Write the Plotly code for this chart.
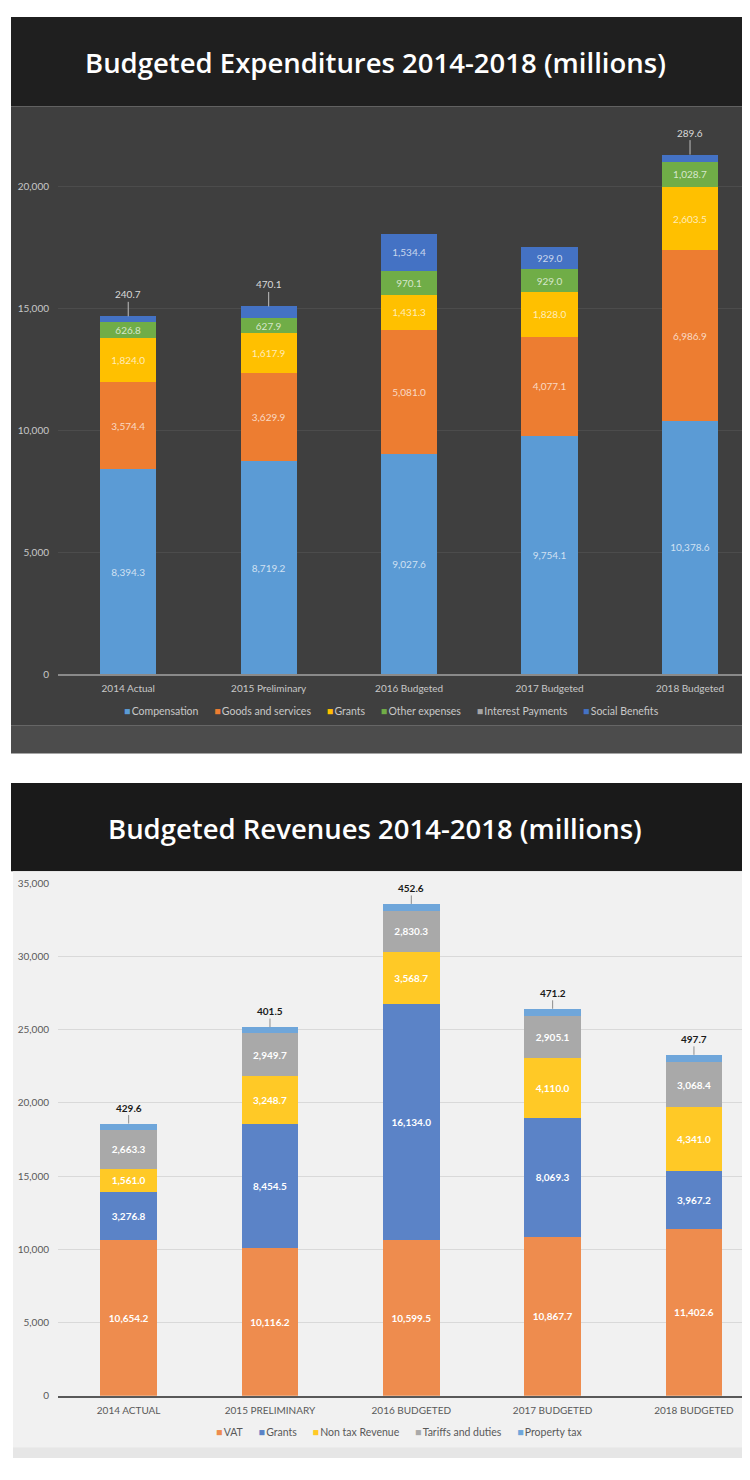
import plotly.graph_objects as go

# expenditures (millions)
exp_categories = ["2014 Actual", "2015 Preliminary", "2016 Budgeted", "2017 Budgeted", "2018 Budgeted"]
compensation = [8394.3, 8719.2, 9027.6, 9754.1, 10378.6]
goods_services = [3574.4, 3629.9, 5081.0, 4077.1, 6986.9]
exp_grants = [1824.0, 1617.9, 1431.3, 1828.0, 2603.5]
other_expenses = [626.8, 627.9, 970.1, 929.0, 1028.7]
interest_payments = [0, 0, 0, 0, 0]
social_benefits = [240.7, 470.1, 1534.4, 929.0, 289.6]

# revenues (millions)
rev_categories = ["2014 ACTUAL", "2015 PRELIMINARY", "2016 BUDGETED", "2017 BUDGETED", "2018 BUDGETED"]
vat = [10654.2, 10116.2, 10599.5, 10867.7, 11402.6]
rev_grants = [3276.8, 8454.5, 16134.0, 8069.3, 3967.2]
non_tax = [1561.0, 3248.7, 3568.7, 4110.0, 4341.0]
tariffs = [2663.3, 2949.7, 2830.3, 2905.1, 3068.4]
property_tax = [429.6, 401.5, 452.6, 471.2, 497.7]

OFF = 8  # default body margin of the page
W, H = 750 - 2 * OFF, 1480 - 2 * OFF
FONT = "Lato"
SMALL = 500  # segments below this get their label above the bar


# page pixel -> paper coords
def px(x):
    return (x - OFF) / W


def py(y):
    return 1 - (y - OFF) / H


def labels(vals):
    return ["" if v < SMALL else f"{v:,.1f}" for v in vals]


def legend_text(series):
    # compact excel-style legend: small coloured square right before each name
    gap = "\u2002\u2002\u2002"
    return gap.join(f'<span style="color:{c}">■</span>\u2009{n}' for n, _, c in series)


fig = go.Figure()

exp_series = [
    ("Compensation", compensation, "#5B9BD5"),
    ("Goods and services", goods_services, "#ED7D31"),
    ("Grants", exp_grants, "#FFC000"),
    ("Other expenses", other_expenses, "#70AD47"),
    ("Interest Payments", interest_payments, "#A5A5A5"),
    ("Social Benefits", social_benefits, "#4472C4"),
]
for name, vals, col in exp_series:
    fig.add_trace(go.Bar(
        x=exp_categories, y=vals, name=name, marker=dict(color=col, line=dict(width=0)),
        text=labels(vals), textposition="inside", insidetextanchor="middle", textangle=0,
        constraintext="none",
        textfont=dict(family=FONT, size=10, color="rgba(255,255,255,0.72)"),
        hoverinfo="x+y+name", xaxis="x", yaxis="y", showlegend=False,
    ))

rev_series = [
    ("VAT", vat, "#EE8C4E"),
    ("Grants", rev_grants, "#5B83C7"),
    ("Non tax Revenue", non_tax, "#FFC926"),
    ("Tariffs and duties", tariffs, "#A9A9A9"),
    ("Property tax", property_tax, "#6FA6DA"),
]
for name, vals, col in rev_series:
    fig.add_trace(go.Bar(
        x=rev_categories, y=vals, name=name, marker=dict(color=col, line=dict(width=0)),
        text=labels(vals), textposition="inside", insidetextanchor="middle", textangle=0,
        constraintext="none",
        textfont=dict(family=FONT, size=10, color="white", weight="bold"),
        hoverinfo="x+y+name", xaxis="x2", yaxis="y2", showlegend=False,
    ))

annotations = []
# outside labels with leader lines for thin top segments
exp_totals = [sum(s[1][i] for s in exp_series) for i in range(len(exp_categories))]
for i, v in enumerate(social_benefits):
    if v < SMALL:
        annotations.append(dict(
            x=exp_categories[i], y=exp_totals[i], xref="x", yref="y", text=f"{v:,.1f}",
            showarrow=True, arrowhead=0, arrowwidth=1, arrowcolor="#bfbfbf", ax=0, ay=-22,
            font=dict(family=FONT, size=10, color="#d9d9d9"),
        ))
rev_totals = [sum(s[1][i] for s in rev_series) for i in range(len(rev_categories))]
for i, v in enumerate(property_tax):
    if v < SMALL:
        annotations.append(dict(
            x=rev_categories[i], y=rev_totals[i], xref="x2", yref="y2", text=f"{v:,.1f}",
            showarrow=True, arrowhead=0, arrowwidth=1, arrowcolor="#8c8c8c", ax=0, ay=-16,
            font=dict(family=FONT, size=10, color="#1a1a1a", weight="bold"),
        ))

# banner titles
annotations.append(dict(
    x=px(375), y=py(56), xref="paper", yref="paper", showarrow=False,
    xanchor="center", yanchor="middle",
    text="Budgeted Expenditures 2014-2018 (millions)",
    font=dict(family="Open Sans", size=27.5, color="white", weight=600),
))
annotations.append(dict(
    x=px(375), y=py(829), xref="paper", yref="paper", showarrow=False,
    xanchor="center", yanchor="middle",
    text="Budgeted Revenues 2014-2018 (millions)",
    font=dict(family="Open Sans", size=27.5, color="white", weight=600),
))

# legends
annotations.append(dict(
    x=px(392), y=py(710), xref="paper", yref="paper", showarrow=False,
    xanchor="center", yanchor="middle", text=legend_text(exp_series),
    font=dict(family=FONT, size=10.5, color="#c8c8c8"),
))
annotations.append(dict(
    x=px(399), y=py(1438), xref="paper", yref="paper", showarrow=False,
    xanchor="center", yanchor="middle", text=legend_text(rev_series),
    font=dict(family=FONT, size=10.5, color="#595959"),
))

shapes = [
    dict(type="rect", xref="paper", yref="paper", x0=px(11), x1=px(742), y0=py(100), y1=py(10),
         fillcolor="#1f1f1f", line=dict(width=0), layer="below"),
    dict(type="rect", xref="paper", yref="paper", x0=px(11), x1=px(742), y0=py(725), y1=py(100),
         fillcolor="#3f3f3f", line=dict(width=0), layer="below"),
    dict(type="rect", xref="paper", yref="paper", x0=px(11), x1=px(742), y0=py(753), y1=py(725),
         fillcolor="#4c4c4c", line=dict(width=0), layer="below"),
    dict(type="rect", xref="paper", yref="paper", x0=px(11), x1=px(742), y0=py(872), y1=py(783),
         fillcolor="#1a1a1a", line=dict(width=0), layer="below"),
    dict(type="rect", xref="paper", yref="paper", x0=px(13), x1=px(742), y0=py(1453), y1=py(872),
         fillcolor="#f1f1f1", line=dict(width=0), layer="below"),
    dict(type="rect", xref="paper", yref="paper", x0=px(13), x1=px(742), y0=py(1464), y1=py(1453),
         fillcolor="#e6e6e6", line=dict(width=0), layer="below"),
]

fig.update_layout(
    width=W, height=H, margin=dict(l=0, r=0, t=0, b=0),
    paper_bgcolor="white", plot_bgcolor="rgba(0,0,0,0)",
    barmode="stack", bargap=0.6, showlegend=False,
    font=dict(family=FONT),
    shapes=shapes, annotations=annotations,
    xaxis=dict(domain=[px(58), px(742)], anchor="y", range=[-0.5, 4.37],
               showline=True, linecolor="#8a8a8a", linewidth=1.5, showgrid=False, ticks="",
               ticklabelstandoff=4,
               tickfont=dict(family=FONT, size=10, color="#c8c8c8")),
    yaxis=dict(domain=[py(673), py(119)], anchor="x", range=[0, 22500],
               tickvals=[0, 5000, 10000, 15000, 20000], tickformat=",",
               showgrid=True, gridcolor="rgba(255,255,255,0.07)", zeroline=False, showline=False,
               ticks="", ticklabelstandoff=8,
               tickfont=dict(family=FONT, size=10, color="#c8c8c8")),
    xaxis2=dict(domain=[px(58), px(742)], anchor="y2", range=[-0.5, 4.34],
                showline=True, linecolor="#595959", linewidth=1.5, showgrid=False, ticks="",
                ticklabelstandoff=5,
                tickfont=dict(family=FONT, size=10, color="#595959")),
    yaxis2=dict(domain=[py(1401), py(884)], anchor="x2", range=[0, 35000],
                tickvals=[0, 5000, 10000, 15000, 20000, 25000, 30000, 35000], tickformat=",",
                showgrid=True, gridcolor="#d9d9d9", zeroline=False, showline=False,
                ticks="", ticklabelstandoff=8,
                tickfont=dict(family=FONT, size=10, color="#595959")),
)

fig.write_html("out.html")
